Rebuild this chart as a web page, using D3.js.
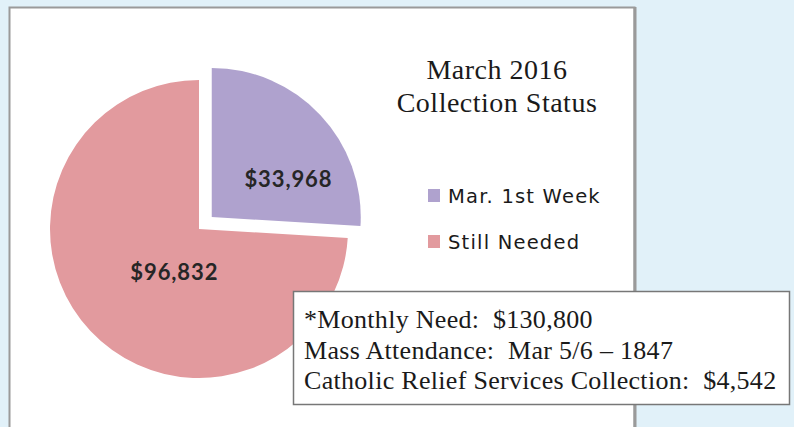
<!DOCTYPE html>
<html>
<head>
<meta charset="utf-8">
<script src="https://cdn.jsdelivr.net/npm/d3@7"></script>
<style>
    body { margin: 0; background: #e1f1f9; }
    svg { display: block; }
</style>
</head>
<body>
<svg id="chart"></svg>
<script>
// Data
const categories = ["Mar. 1st Week", "Still Needed"];
const amounts = [33968, 96832];
const sliceColors = ["#afa2ce", "#e29a9e"];
const titleLines = ["March 2016", "Collection Status"];
const noteLines = [
    "*Monthly Need:  $130,800",
    "Mass Attendance:  Mar 5/6 \u2013 1847",
    "Catholic Relief Services Collection:  $4,542"
];

const width = 794, height = 427;
const svg = d3.select("#chart").attr("width", width).attr("height", height);

// chart frame
svg.append("rect")
    .attr("x", 9.5).attr("y", 7.5)
    .attr("width", 625).attr("height", 440)
    .attr("fill", "#fff")
    .attr("stroke", "#9a9a9a")
    .attr("stroke-width", 2);
svg.append("line")
    .attr("x1", 635).attr("x2", 635)
    .attr("y1", 7).attr("y2", height)
    .attr("stroke", "#9a9a9a")
    .attr("stroke-width", 3);

// pie
const cx = 199, cy = 229, radius = 149, explode = 17.5;
const pie = d3.pie().sort(null).value(d => d)(amounts);
const arc = d3.arc().innerRadius(0).outerRadius(radius);
const labelArc = d3.arc().innerRadius(radius * 0.55).outerRadius(radius * 0.55);
const nudges = [[17, 19], [35, -13]];

const g = svg.append("g").attr("transform", `translate(${cx},${cy})`);

const slices = g.selectAll("g.slice")
    .data(pie)
    .join("g")
    .attr("class", "slice")
    .attr("transform", (d, i) => {
        if (i !== 0) return null;
        let a = (d.startAngle + d.endAngle) / 2;
        return `translate(${explode * Math.sin(a)},${-explode * Math.cos(a)})`;
    });

slices.append("path")
    .attr("d", arc)
    .attr("fill", (d, i) => sliceColors[i]);

slices.append("text")
    .attr("x", (d, i) => labelArc.centroid(d)[0] + nudges[i][0])
    .attr("y", (d, i) => labelArc.centroid(d)[1] + nudges[i][1] - 1)
    .attr("text-anchor", "middle")
    .attr("dominant-baseline", "central")
    .style("font-family", "Lato, 'DejaVu Sans', sans-serif")
    .style("font-weight", 700)
    .style("font-size", "22px")
    .style("letter-spacing", "0.9px")
    .style("fill", "#262626")
    .text(d => "$" + d3.format(",")(d.value));

// title
svg.append("g")
    .selectAll("text")
    .data(titleLines)
    .join("text")
    .attr("x", 497)
    .attr("y", (d, i) => 79 + i * 33)
    .attr("text-anchor", "middle")
    .style("font-family", "'Liberation Serif', 'Times New Roman', serif")
    .style("font-size", "28px")
    .style("letter-spacing", "0.5px")
    .style("fill", "#1a1a1a")
    .text(d => d);

// legend
const legend = svg.append("g")
    .selectAll("g")
    .data(categories)
    .join("g")
    .attr("transform", (d, i) => `translate(428,${189 + i * 46})`);

legend.append("rect")
    .attr("width", 12)
    .attr("height", 13)
    .attr("fill", (d, i) => sliceColors[i]);

legend.append("text")
    .attr("x", 20)
    .attr("y", 14)
    .style("font-family", "'DejaVu Sans', sans-serif")
    .style("font-size", "19.5px")
    .style("letter-spacing", "1.2px")
    .style("fill", "#1a1a1a")
    .text(d => d);

// notes box
const box = svg.append("g");
box.append("rect")
    .attr("x", 293.5).attr("y", 291.5)
    .attr("width", 496).attr("height", 113)
    .attr("fill", "#fff")
    .attr("stroke", "#777")
    .attr("stroke-width", 1.5);
box.selectAll("text")
    .data(noteLines)
    .join("text")
    .attr("x", 304)
    .attr("y", (d, i) => 328 + i * 30.5)
    .style("font-family", "'Liberation Serif', 'Times New Roman', serif")
    .style("font-size", "26px")
    .style("letter-spacing", "0.3px")
    .style("fill", "#1a1a1a")
    .style("white-space", "pre")
    .text(d => d);
</script>
</body>
</html>
